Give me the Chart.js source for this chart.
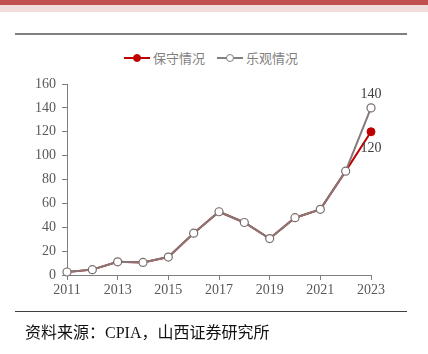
<!DOCTYPE html>
<html>
<head>
<meta charset="utf-8">
<script src="https://cdn.jsdelivr.net/npm/chart.js@4.4.0/dist/chart.umd.min.js"></script>
<style>
  body { margin: 0; width: 428px; height: 354px; background: #fff; position: relative; overflow: hidden; }
  .band1 { position: absolute; left: 0; top: 0; width: 428px; height: 5px; background: #c0504d; }
  .band2 { position: absolute; left: 0; top: 5px; width: 428px; height: 7px; background: #f2dcdb; }
  .rule-top { position: absolute; left: 15px; top: 33px; width: 392px; height: 2px; background: #7f7f7f; }
  .rule-bot { position: absolute; left: 15px; top: 311px; width: 392px; height: 1px; background: #404040; }
  .source { position: absolute; left: 25px; top: 319px; font: 16px "Liberation Serif", "Noto Sans CJK SC", serif; color: #111; }
  #chart { position: absolute; left: 0; top: 0; }
  .legend { position: absolute; top: 48px; left: 124px; font: 13px "Noto Sans CJK SC", sans-serif; color: #7f7f7f; display: flex; align-items: center; }
  .item { display: flex; align-items: center; margin-right: 12px; }
  .sym { position: relative; width: 26px; height: 18px; margin-right: 3px; }
  .sym .ln { position: absolute; left: 0; top: 8px; width: 26px; height: 2px; }
  .sym .dot { position: absolute; left: 9px; top: 5px; width: 6px; height: 6px; border-radius: 50%; }
</style>
</head>
<body>
<div class="band1"></div>
<div class="band2"></div>
<div class="rule-top"></div>
<div class="legend">
  <div class="item"><div class="sym"><div class="ln" style="background:#c00000"></div><div class="dot" style="background:#c00000;border:1px solid #c00000"></div></div>保守情况</div>
  <div class="item"><div class="sym"><div class="ln" style="background:#808080"></div><div class="dot" style="background:#fff;border:1px solid #808080"></div></div>乐观情况</div>
</div>
<canvas id="chart" width="428" height="354"></canvas>
<div class="rule-bot"></div>
<div class="source">资料来源：CPIA，山西证券研究所</div>
<script>
// 年份与装机数据
const years = [2011, 2012, 2013, 2014, 2015, 2016, 2017, 2018, 2019, 2020, 2021, 2022, 2023];
const baoshou = [2.5, 4.5, 11, 10.5, 15, 35, 53, 44, 30.5, 48, 55, 87, 120];
const leguan  = [2.5, 4.5, 11, 10.5, 15, 35, 53, 44, 30.5, 48, 55, 87, 140];
const yTicks = [0, 20, 40, 60, 80, 100, 120, 140, 160];

function toPoints(vals){
  return years.map((yr, i) => ({ x: yr, y: vals[i] }));
}

// 末端数据标签
const endLabels = {
  id: "endLabels",
  afterDatasetsDraw(chart){
    const ctx = chart.ctx;
    ctx.save();
    ctx.font = "14px 'Liberation Serif', serif";
    ctx.fillStyle = "#404040";
    ctx.textAlign = "center";
    const last = years.length - 1;
    const p1 = chart.getDatasetMeta(1).data[last];
    ctx.textBaseline = "bottom";
    ctx.fillText(String(leguan[last]), p1.x, p1.y - 7);
    const p0 = chart.getDatasetMeta(0).data[last];
    ctx.textBaseline = "top";
    ctx.fillText(String(baoshou[last]), p0.x, p0.y + 10);
    ctx.restore();
  }
};

const lastIdx = years.length - 1;
new Chart(document.getElementById("chart"), {
  type: "line",
  data: {
    datasets: [
      {
        label: "保守情况",
        data: toPoints(baoshou),
        borderColor: "#c00000",
        backgroundColor: "#c00000",
        pointBorderColor: "#c00000",
        borderWidth: 2,
        pointRadius: ctx => ctx.dataIndex === lastIdx ? 4 : 0,
        pointBorderWidth: 1,
        clip: false,
        order: 2
      },
      {
        label: "乐观情况",
        data: toPoints(leguan),
        borderColor: "#877878",
        backgroundColor: "#fff",
        pointBorderColor: "#7a6c6c",
        borderWidth: 2,
        pointRadius: 4,
        pointBorderWidth: 1.2,
        clip: false,
        order: 1
      }
    ]
  },
  options: {
    responsive: false,
    animation: false,
    layout: { padding: { left: 0, right: 57, top: 84, bottom: 49 } },
    plugins: { legend: { display: false }, tooltip: { enabled: false } },
    scales: {
      x: {
        type: "linear",
        min: 2011, max: 2023,
        afterFit: s => { s.height = 30; },
        ticks: { stepSize: 2, color: "#595959", font: { family: "Liberation Serif", size: 14 }, padding: 2, callback: v => String(v) },
        grid: { drawOnChartArea: false, drawTicks: true, tickLength: 5, color: "#7f7f7f" },
        border: { color: "#7f7f7f", width: 1 }
      },
      y: {
        min: 0, max: 160,
        afterFit: s => { s.width = 67; },
        afterBuildTicks: s => { s.ticks = yTicks.map(v => ({ value: v })); },
        ticks: { color: "#595959", font: { family: "Liberation Serif", size: 14 }, padding: 6 },
        grid: { drawOnChartArea: false, drawTicks: true, tickLength: 5, color: "#7f7f7f" },
        border: { color: "#7f7f7f", width: 1 }
      }
    }
  },
  plugins: [endLabels]
});
</script>
</body>
</html>
